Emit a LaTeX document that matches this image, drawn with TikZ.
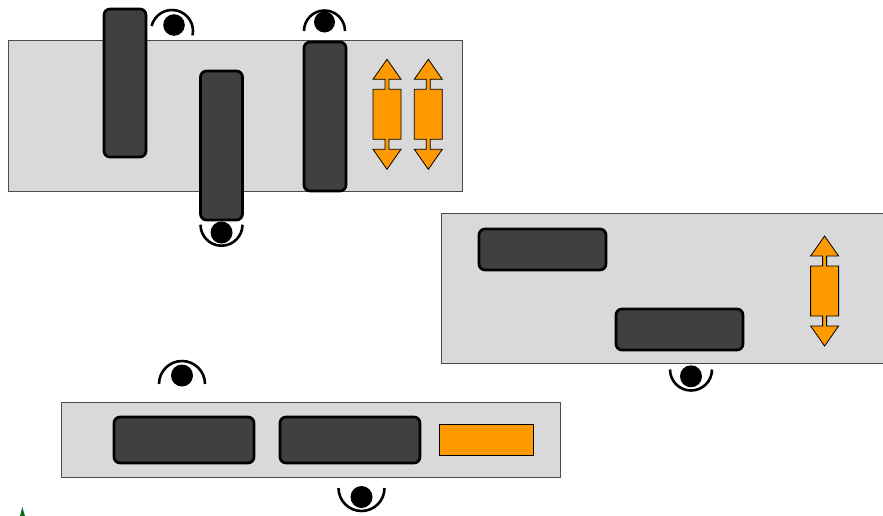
\documentclass[tikz,border=0pt]{standalone}
\definecolor{plate}{HTML}{D9D9D9}
\definecolor{bar}{HTML}{404040}
\definecolor{amber}{HTML}{FF9900}
\definecolor{sprout}{HTML}{0B6B1E}
\tikzset{
  plateshape/.style={fill=plate,draw=black!70,line width=0.6pt},
  barshape/.style={fill=bar,draw=black,line width=2.7pt,rounded corners=6pt},
  ambershape/.style={fill=amber,draw=black,line width=0.8pt,line join=miter},
  ball/.style={fill=black,draw=none},
  brow/.style={draw=black,line width=2.6pt}
}
% double arrow: centre x, top apex y
\newcommand{\twinarrow}[2]{%
  \draw[ambershape,shift={(#1,#2)}] (0,0) -- (14,20) -- (2,20) -- (2,30) -- (14,30) -- (14,80)
    -- (2,80) -- (2,90) -- (14,90) -- (0,110) -- (-14,90) -- (-2,90) -- (-2,80) -- (-14,80)
    -- (-14,30) -- (-2,30) -- (-2,20) -- (-14,20) -- cycle;}
% eye: ball x, y, r ; arc centre x, y, r, start, end
\newcommand{\eyemark}[7]{%
  \fill[ball] (#1,#2) circle[radius=#3];
  \draw[brow] ([shift={(#6:#5)}]#1,#4) arc[start angle=#6,end angle=#7,radius=#5];}
\begin{document}
\begin{tikzpicture}[x=1pt,y=-1pt]
\useasboundingbox (0,0) rectangle (883,515);
\path[clip] (0,0) rectangle (883,515);
% plates
\draw[plateshape] (7.8,39.8) rectangle (462.5,191);
\draw[plateshape] (441.5,212.8) rectangle (890,363);
\draw[plateshape] (60.8,402) rectangle (560,477);
% bars
\draw[barshape] (104,9) rectangle (146,157);
\draw[barshape] (200.5,71) rectangle (242.5,220);
\draw[barshape] (304,42) rectangle (346,191);
\draw[barshape] (479,229) rectangle (606,270);
\draw[barshape] (616,309) rectangle (743,350);
\draw[barshape] (114,417) rectangle (254,463);
\draw[barshape] (280,417) rectangle (420,463);
% amber
\twinarrow{387}{59.3}
\twinarrow{428.3}{59.3}
\twinarrow{824.6}{236}
\draw[ambershape] (439.3,424.6) rectangle (533.5,455);
% eyes
\draw[brow] ([shift={(194:21)}]172,31) arc[start angle=194,end angle=372,radius=21];
\fill[ball] (174,25) circle[radius=10.8];
\eyemark{324.5}{22}{10.5}{31}{20.5}{180}{360}
\eyemark{221.5}{232.5}{11}{224.7}{21}{0}{180}
\eyemark{691}{376.3}{11}{369.5}{21}{0}{180}
\eyemark{182}{375.5}{11}{384}{23}{180}{360}
\eyemark{361.5}{497}{11}{488}{23}{0}{180}
% green sliver
\fill[sprout] (22.3,507) -- (25,516) -- (20,516) -- cycle;
\end{tikzpicture}
\end{document}
